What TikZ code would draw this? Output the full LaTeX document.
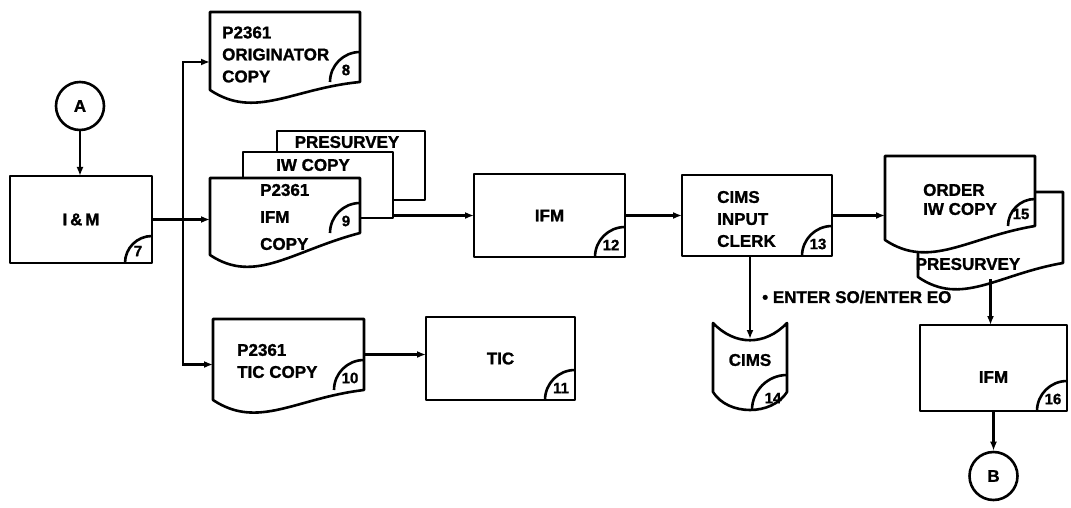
\documentclass[tikz,border=0pt]{standalone}
\usepackage{fontspec}
\setsansfont{Liberation Sans}[BoldFeatures={FakeBold=1.2}]
\usetikzlibrary{calc,arrows.meta}

\newcommand{\lbl}{\sffamily\bfseries\fontsize{17}{22}\selectfont}
\newcommand{\numlbl}{\sffamily\bfseries\fontsize{15}{15}\selectfont}

% document outline round an (undrawn) node, left edge hangs #2 lower
\newcommand{\docpath}[2]{%
  \draw[shape line, fill=white] (#1.south east) -- (#1.north east) -- (#1.north west)
    -- ($(#1.south west)+(0,#2)$)
    .. controls ($(#1.south west)!0.3!(#1.south east)+(0,{#2+30})$)
    and ($(#1.south west)!0.55!(#1.south east)+(0,{0.8*#2})$) .. (#1.south east) -- cycle;}

% quarter arc with a step number in a lower right corner
\newcommand{\cornernum}[3]{%
  \draw[shape line] ($(#1)+(-#3,0)$)
    .. controls ($(#1)+({-#3},{-0.552*#3})$) and ($(#1)+({-0.552*#3},{-#3})$)
    .. ($(#1)+(0,-#3)$);
  \node[font=\numlbl, inner sep=0pt] at ($(#1)+(-14,-12)$) {#2};}

\tikzset{
  shape line/.style={line width=2.6pt, line join=round},
  arr/.style={line width=2.4pt, -{Latex[length=9pt,width=7pt]}},
  blk/.style={draw, shape line, rectangle, outer sep=0pt, inner sep=0pt, font=\lbl},
  sheet/.style={rectangle, outer sep=0pt, inner sep=0pt},
  flat/.style={sheet, draw, fill=white, shape line},
  conn/.style={draw, shape line, circle, minimum size=48pt, inner sep=0pt, font=\lbl},
  txt/.style={font=\lbl, align=left, anchor=west, inner sep=0pt},
  word/.style={font=\lbl, inner sep=0pt}
}

\begin{document}
\begin{tikzpicture}[x=1pt, y=-1pt]
\useasboundingbox (0,0) rectangle (1071,508);

% --- connectors A and B ---
\node[conn] (A) at (80,106) {A};
\node[conn] (B) at (993.5,476) {B};

% --- process boxes ---
\node[blk, minimum width=142pt, minimum height=87pt] (im) at (81,219.5) {I\,\&\,M};
\node[blk, minimum width=151pt, minimum height=83pt] (ifm12) at (549.5,215.5) {IFM};
\node[blk, minimum width=150pt, minimum height=81pt] (clerk) at (757,215.5) {};
\node[blk, minimum width=149pt, minimum height=83pt] (tic) at (500.5,358.5) {TIC};
\node[blk, minimum width=147pt, minimum height=86pt,
      label={[word, yshift=-9pt]center:IFM}] (ifm16) at (993.5,368) {};

% --- originator copy ---
\node[sheet, minimum width=150pt, minimum height=70pt] (orig) at (285,47) {};
\docpath{orig}{8}

% --- IFM copy with two sheets behind ---
\node[flat, minimum width=148pt, minimum height=69pt] (pres1) at (351,165.5) {};
\node[flat, minimum width=150pt, minimum height=66pt] (iw) at (318,185) {};
\node[sheet, minimum width=150pt, minimum height=55pt] (ifmdoc) at (285,205.5) {};
\docpath{ifmdoc}{22}

% --- TIC copy ---
\node[sheet, minimum width=151pt, minimum height=71pt] (ticdoc) at (288.5,354.5) {};
\docpath{ticdoc}{10}

% --- order IW copy over presurvey ---
\node[sheet, minimum width=145pt, minimum height=71pt] (presv) at (990.5,227.5) {};
\docpath{presv}{14}
\node[sheet, minimum width=150pt, minimum height=70pt] (order) at (960,191) {};
\docpath{order}{14}

% --- CIMS storage ---
\node[sheet, minimum width=74pt, minimum height=87pt] (cims) at (750,366.5) {};
\draw[shape line] (cims.north west)
  .. controls ($(cims.north west)+(22,23)$) and ($(cims.north east)+(-22,23)$) .. (cims.north east)
  -- ($(cims.south east)+(0,-18)$)
  .. controls ($(cims.south east)+(-15,6)$) and ($(cims.south west)+(15,6)$) .. ($(cims.south west)+(0,-18)$)
  -- cycle;

% --- texts ---
\node[txt] (orig-t) at (222,54.5) {P2361\\ORIGINATOR\\COPY};
\node[word] (pres1-t) at (347,142) {PRESURVEY};
\node[word] (iw-t) at (313,165) {IW COPY};
\node[txt] (ifmdoc-t) at (260,217) {P2361\\[5pt]IFM\\[5pt]COPY};
\node[txt] (ticdoc-t) at (237,361) {P2361\\TIC COPY};
\node[txt] (clerk-t) at (717,219) {CIMS\\INPUT\\CLERK};
\node[txt] (order-t) at (923,199.5) {ORDER\\[-3pt]IW COPY};
\node[word] (presv-t) at (968,264) {PRESURVEY};
\node[word] (cims-t) at (750,360) {CIMS};
\node[txt] (enter) at (762,297) {\textbullet\ ENTER SO/ENTER EO};

% --- step numbers ---
\foreach \p/\k/\r in {im/7/27, orig/8/30, ifmdoc/9/30, ticdoc/10/30, tic/11/30,
                      ifm12/12/30, clerk/13/30, order/15/27, ifm16/16/30}
  \cornernum{\p.south east}{\k}{\r};
\cornernum{cims.south east}{14}{35}

% --- flow lines ---
\coordinate (split) at ($(im.east)+(31,0)$);
\draw[arr] (A.south) -- (A.south |- im.north);
\draw[arr] (im.east) -- (im.east -| ifmdoc.west);
\draw[arr] (split) |- ([yshift=-15pt]orig.west);
\draw[arr] (split) |- ([yshift=-10pt]ticdoc.west);
\draw[arr] (ticdoc.east) -- (ticdoc.east -| tic.west);
\draw[arr] (iw.east |- ifm12.west) -- (ifm12.west);
\draw[arr] (ifm12.east) -- (clerk.west);
\draw[arr] (clerk.south -| cims.north) -- ([yshift=-16pt]cims.north);
\draw[arr] (clerk.east) -- (clerk.east -| order.west);
\draw[arr] ([yshift=-16pt]presv.south) -- (presv.south |- ifm16.north);
\draw[arr] (ifm16.south) -- (B.north);

\end{tikzpicture}
\end{document}
